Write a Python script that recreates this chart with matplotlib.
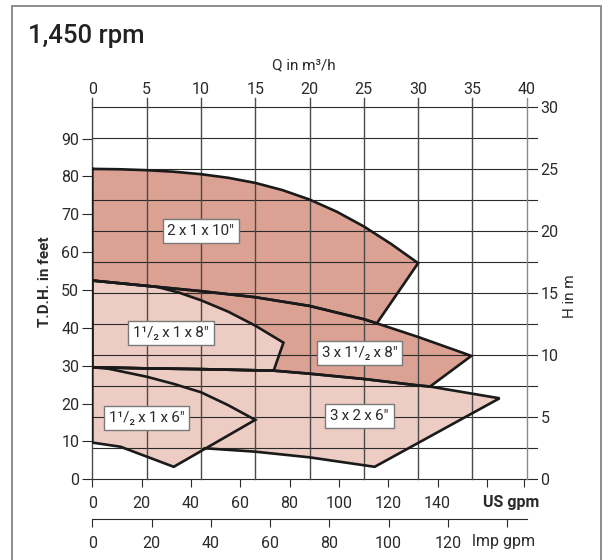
import numpy as np
import matplotlib
matplotlib.use("Agg")
import matplotlib.pyplot as plt
from matplotlib.patches import Polygon, Rectangle

plt.rcParams['font.family'] = ['Roboto', 'DejaVu Sans']

FT_PER_M = 3.2808
US_PER_M3H = 4.4029
IMP_PER_M3H = 3.6662

# pump curves: flow in m3/h, head in feet
top10_q = [0, 2.5, 5, 7.5, 10, 12.5, 15, 17.5, 20, 22.5, 25, 27.5, 30]
top10_h = [82.0, 81.9, 81.65, 81.25, 80.6, 79.65, 78.3, 76.4, 73.9, 70.7, 66.8, 62.2, 57.1]
upper_q = [0, 5, 10, 15, 20, 25, 26.2, 30, 34.9]
upper_h = [52.5, 51.1, 49.7, 48.1, 45.8, 42.3, 41.2, 37.6, 32.6]
top8_q = [6, 8, 10, 12.5, 15, 17.6, 16.7]
top8_h = [50.8, 49.3, 47.3, 44.3, 40.6, 36.1, 28.7]
mid_q = [0, 5, 10, 15, 16.7, 20, 25, 30, 31.1, 37.5]
mid_h = [29.6, 29.3, 29.1, 28.8, 28.7, 27.9, 26.5, 24.8, 24.5, 21.4]
bot32_q = [26.0, 20, 15, 10.35]
bot32_h = [3.3, 5.8, 7.3, 8.2]
small6_q = [1.5, 5, 7.5, 10, 12.5, 15, 7.5, 2.6, 0]
small6_h = [29.2, 27.1, 25.2, 23.0, 19.6, 15.7, 3.3, 8.6, 9.7]

labels = ['2\u2009x\u20091\u2009x\u200910\u2033',
          '1\u00b9/\u2082\u2009x\u20091\u2009x\u20098\u2033',
          '3\u2009x\u20091\u00b9/\u2082\u2009x\u20098\u2033',
          '3\u2009x\u20092\u2009x\u20096\u2033',
          '1\u00b9/\u2082\u2009x\u20091\u2009x\u20096\u2033']
label_q = [10.0, 7.25, 24.6, 24.6, 5.0]
label_h = [65.6, 38.6, 33.3, 16.7, 16.2]

ft_ticks = list(range(0, 91, 10))
m_ticks = list(range(0, 31, 5))
q_ticks = list(range(0, 41, 5))
us_ticks = [0, 20, 40, 60, 80, 100, 120, 140, 160, 175]
us_labels = ['0', '20', '40', '60', '80', '100', '120', '140', '', '']
imp_ticks = [0, 20, 40, 60, 80, 100, 120, 140]
imp_labels = ['0', '20', '40', '60', '80', '100', '120', '']

DARK = '#dba193'
LIGHT = '#ecccc3'
INK = '#2a2a2a'


def pts(q, h):
    return np.column_stack([q, h])


uq, uh = np.array(upper_q), np.array(upper_h)
mq, mh = np.array(mid_q), np.array(mid_h)

regions = [
    (np.vstack([pts(top10_q, top10_h), pts(uq[uq <= 26.2], uh[uq <= 26.2])[::-1]]), DARK, True),
    (np.vstack([pts(uq, uh), pts(mq[mq <= 31.1], mh[mq <= 31.1])[::-1]]), DARK, True),
    (np.vstack([pts(uq[uq <= 5], uh[uq <= 5]), pts(top8_q, top8_h),
                pts(mq[mq <= 16.7], mh[mq <= 16.7])[::-1]]), LIGHT, True),
    (np.vstack([pts(mq, mh), pts(bot32_q, bot32_h)]), LIGHT, False),
    (np.vstack([pts(mq[:1], mh[:1]), pts(small6_q, small6_h)]), LIGHT, True),
]

fig = plt.figure(figsize=(6.08, 5.6), dpi=100)
ax = fig.add_axes([92.3 / 608, 1 - 479.3 / 560, 434.4 / 608, 372.6 / 560])
ax.set_xlim(0, 40)
ax.set_ylim(0, 30 * FT_PER_M)
for s in ax.spines.values():
    s.set_visible(False)

# filled areas
for verts, col, closed in regions:
    ax.add_patch(Polygon(verts, closed=True, fc=col, ec='none', zorder=1))

# grid: every 2.5 m across, every 5 m3/h up, both running a little past the frame
for m in np.arange(0, 30.01, 2.5):
    ax.plot([0, 40.98], [m * FT_PER_M] * 2, color=INK, lw=0.8, clip_on=False, zorder=2)
for q in q_ticks:
    ax.plot([q, q], [0, 30 * FT_PER_M + 2.2], color='#8a8a8a' if q == 40 else '#4a4a4a',
            lw=1.0, clip_on=False, zorder=2)

# outlines
for verts, col, closed in regions:
    v = np.vstack([verts, verts[:1]]) if closed else verts
    ax.plot(v[:, 0], v[:, 1], color='#1a1a1a', lw=1.9, solid_joinstyle='miter', zorder=3)

for txt, q, h in zip(labels, label_q, label_h):
    ax.text(q, h, txt, ha='center', va='center', fontsize=11, color=INK, zorder=5,
            bbox=dict(boxstyle='square,pad=0.32', fc='white', ec='#7a7a7a', lw=1.0))

# feet on the left, m3/h on top
ax.set_yticks(ft_ticks)
ax.tick_params(axis='y', left=True, right=False, length=7.4, width=0.8, pad=2,
               labelsize=11.5, color=INK, labelcolor=INK)
ax.xaxis.set_ticks_position('top')
ax.set_xticks(q_ticks)
ax.tick_params(axis='x', top=True, bottom=False, length=0, pad=7, labelsize=11.5, labelcolor=INK)

# metres on the right
sec_m = ax.secondary_yaxis('right', functions=(lambda f: f / FT_PER_M, lambda m: m * FT_PER_M))
sec_m.set_yticks(m_ticks)
sec_m.tick_params(length=0, pad=10, labelsize=11.5, labelcolor=INK)
sec_m.spines['right'].set_visible(False)

# US gpm along the bottom
sec_us = ax.secondary_xaxis('bottom', functions=(lambda q: q * US_PER_M3H, lambda g: g / US_PER_M3H))
sec_us.set_xticks(us_ticks, labels=us_labels)
sec_us.tick_params(length=5.8, width=0.8, pad=6, labelsize=11.5, color=INK, labelcolor=INK)
sec_us.spines['bottom'].set_visible(False)

# Imp gpm below that
sec_imp = ax.secondary_xaxis(-0.1074, functions=(lambda q: q * IMP_PER_M3H, lambda g: g / IMP_PER_M3H))
sec_imp.set_xticks(imp_ticks, labels=imp_labels)
sec_imp.tick_params(length=5.8, width=0.8, pad=6, labelsize=11.5, color=INK, labelcolor=INK)
sec_imp.spines['bottom'].set_color(INK)
sec_imp.spines['bottom'].set_linewidth(0.8)

fig.text(28 / 608, 1 - 43 / 560, '1,450 rpm', fontsize=18.5, fontweight='medium', va='baseline',
         color='#222')
fig.text(304 / 608, 1 - 65 / 560, 'Q in m\u00b3/h', ha='center', va='center', fontsize=11, color=INK)
fig.text(45 / 608, 1 - 282 / 560, 'T.D.H. in feet', rotation=90, ha='center', va='center',
         fontsize=11, fontweight='bold', color=INK)
fig.text(570 / 608, 1 - 296 / 560, 'H in m', rotation=90, ha='center', va='center',
         fontsize=11, color=INK)
fig.text(539 / 608, 1 - 503 / 560, 'US gpm', ha='right', va='center', fontsize=11.5,
         fontweight='bold', color=INK)
fig.text(535 / 608, 1 - 541.7 / 560, 'lmp gpm', ha='right', va='center', fontsize=11.5, color=INK)

fig.add_artist(Rectangle((12 / 608, -0.05), 589 / 608, 1.05 - 6 / 560, transform=fig.transFigure,
                         fill=False, ec='#8c8c8c', lw=1.4))

fig.savefig('out.png', dpi=100)
